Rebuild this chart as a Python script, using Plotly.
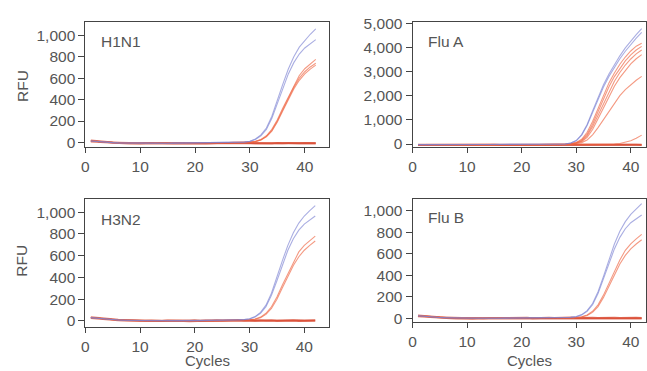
import plotly.graph_objects as go

cycles = list(range(1, 43))

# ---------- H1N1 ----------
h1_blue1 = [14, 9, 5, 1, -2, -4, -5, -6, -6, -7,
            -6, -6, -5, -6, -7, -6, -5, -5, -6, -5,
            -4, -5, -5, -4, -3, -3, -2, 0, 4, 12,
            32, 70, 135, 245, 385, 545, 685, 800, 890, 955, 1010, 1060]
h1_blue2 = [13, 8, 4, 1, -2, -4, -5, -6, -7, -7,
            -6, -6, -6, -6, -7, -6, -5, -6, -6, -5,
            -4, -5, -5, -4, -3, -3, -2, 0, 3, 10,
            28, 62, 122, 225, 360, 510, 640, 745, 825, 882, 925, 960]
h1_orange1 = [15, 10, 5, 2, -2, -4, -5, -6, -7, -7,
              -6, -7, -5, -6, -7, -6, -6, -5, -6, -5,
              -5, -5, -4, -4, -3, -3, -2, -1, 0, 3,
              10, 27, 62, 122, 212, 322, 425, 535, 625, 688, 735, 775]
h1_orange2 = [14, 9, 5, 1, -2, -4, -6, -6, -7, -8,
              -6, -7, -6, -6, -7, -7, -6, -5, -6, -6,
              -5, -5, -5, -4, -4, -3, -2, -1, 0, 2,
              8, 22, 52, 105, 190, 295, 400, 500, 580, 640, 685, 722]
h1_orange3 = [15, 9, 5, 2, -1, -4, -5, -6, -7, -7,
              -7, -6, -6, -6, -7, -6, -6, -6, -6, -5,
              -5, -5, -4, -4, -3, -3, -2, -1, 0, 2,
              9, 24, 57, 113, 200, 308, 412, 515, 600, 660, 705, 740]
h1_base1 = [18, 12, 6, 2, -1, -3, -5, -4, -7, -8,
            -6, -9, -5, -4, -8, -7, -4, -6, -8, -3,
            -5, -7, -4, -6, -2, -5, -3, -6, -2, -4,
            -5, -7, -3, -6, -4, -8, -5, -3, -7, -4, -6, -5]
h1_base2 = [10, 6, 2, -2, -5, -6, -8, -9, -7, -10,
            -9, -7, -10, -8, -6, -11, -9, -7, -9, -10,
            -8, -6, -9, -7, -10, -8, -6, -9, -7, -8,
            -9, -10, -7, -9, -6, -8, -10, -7, -9, -8, -7, -9]

# ---------- Flu A ----------
fa_blue1 = [-25, -22, -20, -20, -20, -20, -20, -20, -20, -20,
            -20, -20, -20, -20, -20, -20, -20, -20, -20, -20,
            -20, -20, -20, -20, -20, -18, -15, 5, 45, 145,
            390, 810, 1370, 1940, 2450, 2900, 3300, 3650, 3980, 4270, 4530, 4780]
fa_blue2 = [-25, -22, -20, -20, -20, -20, -20, -20, -20, -20,
            -20, -20, -20, -20, -20, -20, -20, -20, -20, -20,
            -20, -20, -20, -20, -20, -19, -16, 3, 40, 135,
            370, 770, 1300, 1860, 2360, 2800, 3190, 3530, 3840, 4120, 4380, 4620]
fa_orange1 = [-30, -28, -26, -25, -25, -25, -25, -25, -25, -25,
              -25, -25, -25, -25, -25, -25, -25, -25, -25, -25,
              -25, -25, -25, -25, -25, -24, -22, -15, 20, 70,
              200, 490, 930, 1480, 2030, 2530, 2940, 3300, 3600, 3850, 4050, 4170]
fa_orange2 = [-30, -28, -26, -25, -25, -25, -25, -25, -25, -25,
              -25, -25, -25, -25, -25, -25, -25, -25, -25, -25,
              -25, -25, -25, -25, -25, -24, -22, -16, 12, 55,
              160, 410, 820, 1340, 1870, 2370, 2790, 3140, 3440, 3690, 3890, 4040]
fa_orange3 = [-30, -28, -26, -25, -25, -25, -25, -25, -25, -25,
              -25, -25, -25, -25, -25, -25, -25, -25, -25, -25,
              -25, -25, -25, -25, -25, -24, -22, -18, 8, 45,
              130, 350, 720, 1200, 1700, 2180, 2600, 2960, 3270, 3520, 3730, 3890]
fa_orange4 = [-30, -28, -26, -25, -25, -25, -25, -25, -25, -25,
              -25, -25, -25, -25, -25, -25, -25, -25, -25, -25,
              -25, -25, -25, -25, -25, -24, -23, -19, 4, 35,
              100, 280, 600, 1050, 1520, 1980, 2390, 2750, 3060, 3320, 3530, 3700]
fa_orange5 = [-30, -28, -26, -25, -25, -25, -25, -25, -25, -25,
              -25, -25, -25, -25, -25, -25, -25, -25, -25, -25,
              -25, -25, -25, -25, -25, -25, -24, -20, -2, 25,
              60, 170, 380, 680, 1020, 1370, 1700, 2000, 2250, 2460, 2640, 2800]
fa_orange6 = [-30, -28, -26, -25, -25, -25, -25, -25, -25, -25,
              -25, -25, -25, -25, -25, -25, -25, -25, -25, -25,
              -25, -25, -25, -25, -25, -25, -25, -25, -25, -25,
              -25, -25, -25, -25, -22, -12, 0, 25, 70, 140, 240, 370]
fa_base1 = [-28, -26, -25, -27, -24, -26, -25, -27, -26, -25,
            -27, -26, -24, -26, -27, -25, -26, -24, -27, -25,
            -26, -27, -25, -26, -24, -27, -25, -26, -27, -25,
            -26, -24, -27, -25, -26, -27, -24, -26, -25, -27, -26, -25]
fa_base2 = [-35, -33, -34, -32, -35, -33, -34, -35, -32, -34,
            -33, -35, -34, -32, -33, -35, -34, -33, -32, -35,
            -34, -33, -35, -32, -34, -33, -35, -34, -32, -33,
            -35, -34, -33, -32, -35, -34, -33, -35, -32, -34, -33, -35]

# ---------- H3N2 ----------
h3_blue1 = [30, 25, 20, 16, 12, 9, 7, 5, 4, 3,
            3, 2, 2, 3, 2, 2, 3, 3, 2, 3,
            3, 4, 4, 5, 5, 6, 7, 9, 13, 20,
            40, 78, 145, 255, 395, 555, 695, 810, 900, 965, 1015, 1060]
h3_blue2 = [29, 24, 19, 15, 11, 8, 6, 5, 4, 3,
            3, 2, 2, 2, 2, 3, 3, 3, 3, 3,
            3, 4, 4, 5, 5, 6, 7, 9, 12, 18,
            36, 70, 132, 235, 370, 520, 650, 755, 835, 890, 930, 965]
h3_orange1 = [32, 26, 21, 17, 13, 10, 8, 6, 5, 4,
              3, 3, 2, 2, 3, 2, 3, 3, 3, 3,
              3, 4, 4, 4, 5, 5, 6, 7, 8, 11,
              18, 35, 70, 130, 220, 330, 435, 545, 635, 695, 740, 780]
h3_orange2 = [31, 25, 20, 16, 12, 9, 7, 6, 5, 4,
              3, 3, 2, 2, 2, 3, 3, 3, 3, 3,
              3, 4, 4, 4, 5, 5, 6, 7, 8, 10,
              15, 30, 60, 115, 200, 305, 410, 510, 590, 650, 695, 735]
h3_base1 = [34, 28, 22, 18, 14, 10, 8, 5, 6, 3,
            4, 2, 5, 1, 4, 6, 2, 5, 3, 6,
            2, 5, 4, 7, 3, 6, 4, 8, 5, 7,
            4, 6, 3, 7, 5, 3, 6, 4, 7, 5, 4, 6]
h3_base2 = [26, 21, 17, 12, 9, 6, 4, 2, 1, 0,
            -1, 1, -2, 0, 2, -1, 1, 0, -2, 1,
            0, 2, -1, 1, 3, 0, 2, 1, 3, 2,
            0, 2, 1, 3, 0, 2, 1, 3, 0, 2, 1, 2]

# ---------- Flu B ----------
fb_blue1 = [25, 20, 16, 12, 9, 7, 5, 4, 3, 2,
            2, 2, 1, 2, 2, 2, 3, 3, 3, 3,
            4, 4, 4, 5, 5, 6, 7, 8, 11, 17,
            35, 72, 138, 248, 390, 550, 690, 808, 898, 965, 1018, 1065]
fb_blue2 = [24, 19, 15, 11, 8, 6, 5, 4, 3, 2,
            2, 2, 1, 2, 2, 2, 3, 3, 3, 3,
            4, 4, 4, 5, 5, 6, 7, 8, 10, 15,
            32, 65, 126, 230, 365, 515, 645, 752, 832, 888, 928, 960]
fb_orange1 = [27, 22, 17, 13, 10, 8, 6, 5, 4, 3,
              2, 2, 2, 2, 2, 3, 3, 3, 3, 4,
              4, 4, 4, 5, 5, 6, 6, 7, 8, 10,
              16, 32, 66, 126, 216, 326, 432, 542, 632, 692, 738, 780]
fb_orange2 = [26, 21, 16, 12, 9, 7, 6, 5, 4, 3,
              2, 2, 2, 2, 2, 3, 3, 3, 3, 4,
              4, 4, 4, 5, 5, 6, 6, 7, 8, 9,
              13, 27, 56, 110, 195, 300, 405, 505, 585, 645, 690, 730]
fb_base1 = [28, 22, 17, 14, 10, 8, 5, 6, 3, 4,
            2, 5, 1, 3, 4, 1, 5, 2, 6, 3,
            5, 2, 6, 4, 7, 3, 6, 5, 8, 4,
            6, 3, 7, 4, 6, 2, 5, 3, 6, 4, 5, 3]
fb_base2 = [20, 16, 12, 8, 5, 3, 1, 0, -2, -1,
            -3, -1, -4, -2, 0, -3, -1, -2, 0, -3,
            -1, 1, -2, 0, 2, -1, 1, 0, 2, 1,
            -1, 1, 0, 2, -1, 1, 0, 2, -1, 0, 1, 0]

# figure fills the window exactly (body margin removed in post_script)
W, H = 647, 371


def px(x):
    return x / W


def py(y):
    return 1 - y / H


panels = [
    dict(name="H1N1", blues=[h1_blue1, h1_blue2], oranges=[h1_orange1, h1_orange2, h1_orange3],
         bases=[h1_base1, h1_base2], xr=[0, 44.5], yr=[-42, 1120], dtick=200,
         xd=[px(82), px(328)], yd=[py(144), py(15)]),
    dict(name="Flu A", blues=[fa_blue1, fa_blue2],
         oranges=[fa_orange1, fa_orange2, fa_orange3, fa_orange4, fa_orange5, fa_orange6],
         bases=[fa_base1, fa_base2], xr=[0, 42.7], yr=[-120, 5030], dtick=1000,
         xd=[px(411.7), px(646.5)], yd=[py(144), py(15)]),
    dict(name="H3N2", blues=[h3_blue1, h3_blue2], oranges=[h3_orange1, h3_orange2],
         bases=[h3_base1, h3_base2], xr=[0, 44.6], yr=[-55, 1118], dtick=200,
         xd=[px(82), px(328)], yd=[py(330.5), py(198.3)]),
    dict(name="Flu B", blues=[fb_blue1, fb_blue2], oranges=[fb_orange1, fb_orange2],
         bases=[fb_base1, fb_base2], xr=[0, 42.7], yr=[-36, 1110], dtick=200,
         xd=[px(411.7), px(646.5)], yd=[py(325.7), py(197.7)]),
]

BLUE = "rgba(125,130,210,0.65)"
ORANGE = "rgba(238,100,65,0.65)"
BASE = "rgba(215,65,40,0.7)"
FONT = "Liberation Sans"
TXT = "#555555"
LINE = "#444444"

fig = go.Figure()
layout = dict(width=W, height=H, margin=dict(l=0, r=0, t=0, b=0),
              paper_bgcolor="white", plot_bgcolor="white", showlegend=False,
              annotations=[])

for i, p in enumerate(panels):
    n = i + 1
    xa = "x" if n == 1 else f"x{n}"
    ya = "y" if n == 1 else f"y{n}"
    for b in p["bases"]:
        fig.add_trace(go.Scatter(x=cycles, y=b, mode="lines", xaxis=xa, yaxis=ya,
                                 line=dict(color=BASE, width=2), hoverinfo="skip"))
    for o in p["oranges"]:
        fig.add_trace(go.Scatter(x=cycles, y=o, mode="lines", xaxis=xa, yaxis=ya,
                                 line=dict(color=ORANGE, width=1.1), hoverinfo="skip"))
    for bl in p["blues"]:
        fig.add_trace(go.Scatter(x=cycles, y=bl, mode="lines", xaxis=xa, yaxis=ya,
                                 line=dict(color=BLUE, width=1.1), hoverinfo="skip"))
    axcommon = dict(showline=True, mirror=True, linecolor=LINE, linewidth=1,
                    ticks="outside", tickcolor=LINE, tickwidth=1,
                    showgrid=False, zeroline=False, ticklabeloverflow="allow",
                    tickfont=dict(family=FONT, size=15.5, color=TXT))
    xkey = "xaxis" if n == 1 else f"xaxis{n}"
    ykey = "yaxis" if n == 1 else f"yaxis{n}"
    layout[xkey] = dict(axcommon, domain=p["xd"], range=p["xr"], tick0=0, dtick=10,
                        ticklen=5, anchor=ya)
    layout[ykey] = dict(axcommon, domain=p["yd"], range=p["yr"], tick0=0, dtick=p["dtick"],
                        ticklen=6, tickformat=",", anchor=xa)
    layout["annotations"].append(dict(text=p["name"], xref=f"{xa} domain", yref=f"{ya} domain",
                                      x=0.054 if n in (1, 3) else 0.057, y=0.845,
                                      xanchor="left", yanchor="middle", showarrow=False,
                                      font=dict(family=FONT, size=15.5, color=TXT)))

for yy in (81, 262):
    layout["annotations"].append(dict(text="RFU", xref="paper", yref="paper",
                                      x=px(18), y=py(yy), textangle=-90,
                                      xanchor="center", yanchor="middle", showarrow=False,
                                      font=dict(family=FONT, size=15.5, color=TXT)))
for xx in (205, 530):
    layout["annotations"].append(dict(text="Cycles", xref="paper", yref="paper",
                                      x=px(xx), y=py(365.5), xanchor="center", yanchor="middle",
                                      showarrow=False,
                                      font=dict(family=FONT, size=15, color=TXT)))

fig.update_layout(**layout)
fig.write_html("out.html", config={"displayModeBar": False, "staticPlot": True},
               post_script="document.body.style.margin='0';document.body.style.overflow='hidden';")
